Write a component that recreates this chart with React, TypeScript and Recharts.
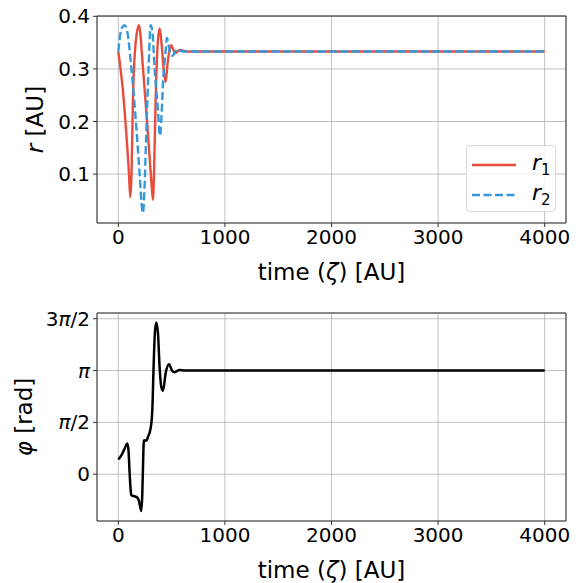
import { LineChart, Line, XAxis, YAxis, CartesianGrid, Legend, ReferenceArea, Label } from "recharts"

// time samples and radii of the two bodies
const R1_TIME = [0, 43, 75, 100, 112, 124, 137, 162, 193, 231, 278, 309, 325, 337, 350, 370, 388, 405, 425, 444, 462, 480, 497, 515, 537, 560, 585, 620, 660, 4000]
const R1_VALUES = [0.333, 0.259, 0.177, 0.101, 0.056, 0.1, 0.24, 0.348, 0.383, 0.303, 0.177, 0.088, 0.051, 0.12, 0.24, 0.35, 0.377, 0.35, 0.3, 0.275, 0.31, 0.335, 0.345, 0.337, 0.33, 0.334, 0.336, 0.334, 0.333, 0.333]

const R2_TIME = [0, 20, 40, 59, 85, 122, 169, 200, 218, 231, 245, 262, 284, 303, 320, 340, 372, 391, 405, 419, 444, 456, 472, 490, 510, 535, 560, 590, 630, 4000]
const R2_VALUES = [0.333, 0.368, 0.38, 0.383, 0.37, 0.303, 0.189, 0.1, 0.045, 0.026, 0.07, 0.177, 0.303, 0.383, 0.37, 0.303, 0.221, 0.173, 0.21, 0.272, 0.335, 0.359, 0.345, 0.328, 0.325, 0.333, 0.337, 0.334, 0.333, 0.333]

// relative phase
const PHI_TIME = [0, 30, 60, 84, 95, 105, 115, 122, 150, 169, 192, 216, 225, 232, 240, 262, 278, 303, 319, 331, 343, 356, 372, 387, 403, 419, 444, 475, 506, 528, 575, 620, 4000]
const PHI_VALUES = [0.447, 0.58, 0.78, 0.933, 0.75, 0.1, -0.45, -0.638, -0.67, -0.69, -0.79, -1.115, -0.6, 0.3, 1.03, 1.01, 1.13, 1.39, 1.95, 3.26, 4.28, 4.6, 4.28, 3.26, 2.65, 2.53, 3.06, 3.33, 3.13, 3.09, 3.16, 3.1416, 3.1416]

const TIME_TICKS = [0, 1000, 2000, 3000, 4000]
const R_TICKS = [0.1, 0.2, 0.3, 0.4]
const PHI_TICKS = [0, Math.PI / 2, Math.PI, (3 * Math.PI) / 2]
const PHI_TICK_LABELS = ["0", "π/2", "π", "3π/2"]

const TIME_DOMAIN = [-200, 4200]
const R_DOMAIN = [0.007, 0.4006]
const PHI_DOMAIN = [-1.42, 4.886]

const RED = "#e74c3c"
const BLUE = "#3498db"
const FRAME = "#333"
const GRID = "#b0b0b0"

const r1Data = R1_TIME.map((t, i) => ({ t, r: R1_VALUES[i] }))
const r2Data = R2_TIME.map((t, i) => ({ t, r: R2_VALUES[i] }))
const phiData = PHI_TIME.map((t, i) => ({ t, phi: PHI_VALUES[i] }))

const TICK_STYLE = { fontSize: 20, fill: "#000" }
const TITLE_SIZE = 23

function TimeLabel(props: any) {
  const vb = props.viewBox || { x: 97, y: 223, width: 469, height: 77 }
  return (
    <text x={vb.x + vb.width / 2} y={vb.y + 57} textAnchor="middle" fontSize={TITLE_SIZE} fill="#000">
      time (<tspan fontStyle="italic">ζ</tspan>) [AU]
    </text>
  )
}

function makeYLabel(offsetX: number, main: string, rest: string) {
  return (props: any) => {
    const vb = props.viewBox || { x: 0, y: 16, width: 97, height: 207 }
    const cx = vb.x + offsetX
    const cy = vb.y + vb.height / 2
    return (
      <text x={cx} y={cy} textAnchor="middle" fontSize={TITLE_SIZE} fill="#000" transform={`rotate(-90, ${cx}, ${cy})`}>
        <tspan fontStyle="italic">{main}</tspan>
        {rest}
      </text>
    )
  }
}

const RLabel = makeYLabel(43, "r", " [AU]")
const PhiLabel = makeYLabel(32, "φ", " [rad]")

function PhiTick(props: any) {
  const { x, y, payload } = props
  const i = PHI_TICKS.findIndex((v) => Math.abs(v - payload.value) < 1e-6)
  const parts = (PHI_TICK_LABELS[i] ?? "").split("π")
  return (
    <text x={x} y={y} dy="0.355em" textAnchor="end" fontSize={20} fill="#000">
      {parts.map((p, k) => (
        <tspan key={k}>
          {p}
          {k < parts.length - 1 && <tspan fontStyle="italic">π</tspan>}
        </tspan>
      ))}
    </text>
  )
}

function RLegend(props: any) {
  const items = props.payload || []
  return (
    <div
      style={{
        width: 90,
        height: 67,
        background: "rgba(255,255,255,0.8)",
        border: "1px solid #d9d9d9",
        borderRadius: 4,
        boxSizing: "border-box",
        paddingTop: 4,
      }}
    >
      {items.map((item: any) => (
        <div key={item.value} style={{ display: "flex", alignItems: "center", height: 30 }}>
          <svg width={60} height={10} style={{ marginLeft: 5 }}>
            <line
              x1={0}
              y1={5}
              x2={44}
              y2={5}
              stroke={item.color}
              strokeWidth={2.4}
              strokeDasharray={item.payload?.strokeDasharray}
            />
          </svg>
          <span style={{ fontSize: 22 }}>
            <i>r</i>
            <sub style={{ fontSize: 15 }}>{item.value.slice(1)}</sub>
          </span>
        </div>
      ))}
    </div>
  )
}

export default function App() {
  return (
    <div
      style={{
        position: "absolute",
        left: 0,
        top: 0,
        width: 581,
        height: 583,
        background: "#fff",
        fontFamily: "'DejaVu Sans', sans-serif",
      }}
    >
      <div style={{ position: "absolute", left: 0, top: 0 }}>
        <LineChart width={581} height={300} margin={{ top: 16, right: 15, bottom: 0, left: 0 }}>
          <CartesianGrid stroke={GRID} strokeWidth={0.8} />
          <XAxis
            dataKey="t"
            type="number"
            domain={TIME_DOMAIN}
            ticks={TIME_TICKS}
            allowDataOverflow
            height={77}
            tick={TICK_STYLE}
            tickSize={4}
            tickMargin={3}
            axisLine={false}
            tickLine={{ stroke: FRAME }}
          >
            <Label content={TimeLabel} />
          </XAxis>
          <YAxis
            type="number"
            domain={R_DOMAIN}
            ticks={R_TICKS}
            allowDataOverflow
            width={97}
            tick={TICK_STYLE}
            tickSize={4}
            tickMargin={3}
            axisLine={false}
            tickLine={{ stroke: FRAME }}
          >
            <Label content={RLabel} />
          </YAxis>
          <ReferenceArea x1={TIME_DOMAIN[0]} x2={TIME_DOMAIN[1]} y1={R_DOMAIN[0]} y2={R_DOMAIN[1]} fill="none" stroke={FRAME} strokeWidth={1} />
          <Line
            data={r1Data}
            dataKey="r"
            name="r1"
            type="monotone"
            stroke={RED}
            strokeWidth={2.4}
            dot={false}
            isAnimationActive={false}
          />
          <Line
            data={r2Data}
            dataKey="r"
            name="r2"
            type="monotone"
            stroke={BLUE}
            strokeWidth={2.4}
            strokeDasharray="8 3.5"
            dot={false}
            isAnimationActive={false}
          />
          <Legend
            content={<RLegend />}
            layout="horizontal"
            align="center"
            verticalAlign="middle"
            wrapperStyle={{ left: 466, top: 145, width: 90, height: 67 }}
          />
        </LineChart>
      </div>
      <div style={{ position: "absolute", left: 0, top: 300 }}>
        <LineChart width={581} height={283} margin={{ top: 13, right: 15, bottom: 0, left: 0 }}>
          <CartesianGrid stroke={GRID} strokeWidth={0.8} />
          <XAxis
            dataKey="t"
            type="number"
            domain={TIME_DOMAIN}
            ticks={TIME_TICKS}
            allowDataOverflow
            height={62}
            tick={TICK_STYLE}
            tickSize={4}
            tickMargin={3}
            axisLine={false}
            tickLine={{ stroke: FRAME }}
          >
            <Label content={TimeLabel} />
          </XAxis>
          <YAxis
            type="number"
            domain={PHI_DOMAIN}
            ticks={PHI_TICKS}
            allowDataOverflow
            width={97}
            tick={<PhiTick />}
            tickSize={4}
            tickMargin={3}
            axisLine={false}
            tickLine={{ stroke: FRAME }}
          >
            <Label content={PhiLabel} />
          </YAxis>
          <ReferenceArea x1={TIME_DOMAIN[0]} x2={TIME_DOMAIN[1]} y1={PHI_DOMAIN[0]} y2={PHI_DOMAIN[1]} fill="none" stroke={FRAME} strokeWidth={1} />
          <Line
            data={phiData}
            dataKey="phi"
            type="monotone"
            stroke="#000"
            strokeWidth={2.5}
            dot={false}
            isAnimationActive={false}
          />
        </LineChart>
      </div>
    </div>
  )
}
